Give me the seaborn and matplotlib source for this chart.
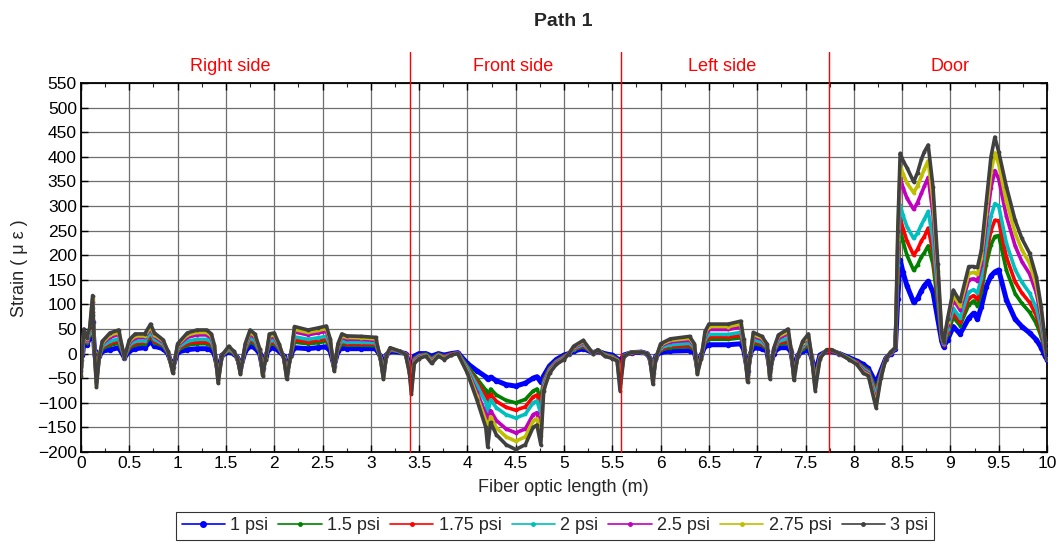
import matplotlib
matplotlib.use("Agg")
import numpy as np
import pandas as pd
import matplotlib.pyplot as plt
import seaborn as sns
from matplotlib.lines import Line2D
from matplotlib.ticker import MultipleLocator, FuncFormatter

# ---------------- data ----------------
x_m = [
    0.00, 0.015, 0.03, 0.06, 0.09, 0.12, 0.14, 0.16, 0.19, 0.22,
    0.30, 0.39, 0.45, 0.50, 0.56, 0.66, 0.72, 0.76, 0.85, 0.90,
    0.95, 1.00, 1.10, 1.20, 1.30, 1.35, 1.38, 1.42, 1.46, 1.53,
    1.58, 1.62, 1.65, 1.70, 1.75, 1.80, 1.85, 1.88, 1.91, 1.95,
    2.00, 2.05, 2.10, 2.13, 2.17, 2.21, 2.35, 2.45, 2.54, 2.58,
    2.62, 2.66, 2.70, 2.75, 2.90, 3.05, 3.10, 3.13, 3.16, 3.20,
    3.30, 3.36, 3.40, 3.42, 3.45, 3.50, 3.57, 3.63, 3.70, 3.76,
    3.83, 3.90, 4.00, 4.10, 4.19, 4.21, 4.24, 4.30, 4.40, 4.50,
    4.60, 4.68, 4.72, 4.76, 4.79, 4.85, 4.92, 5.00, 5.05, 5.10,
    5.20, 5.30, 5.35, 5.42, 5.50, 5.55, 5.58, 5.62, 5.70, 5.80,
    5.86, 5.89, 5.92, 5.95, 6.00, 6.10, 6.30, 6.35, 6.38, 6.42,
    6.46, 6.50, 6.70, 6.83, 6.86, 6.90, 6.93, 6.96, 7.05, 7.10,
    7.13, 7.17, 7.22, 7.32, 7.35, 7.38, 7.42, 7.47, 7.53, 7.56,
    7.60, 7.65, 7.72, 7.77, 7.85, 7.95, 8.03, 8.10, 8.15, 8.23,
    8.28, 8.33, 8.38, 8.43, 8.455, 8.48, 8.51, 8.55, 8.62, 8.66, 8.70, 8.73, 8.77,
    8.82, 8.87, 8.91, 8.93, 8.97, 9.03, 9.10, 9.19, 9.24, 9.28,
    9.32, 9.37, 9.42, 9.46, 9.50, 9.58, 9.67, 9.74, 9.82, 9.89,
    9.94, 9.98, 10.0,
]

strain_1psi = [
    -12, -3, 22, 18, 32, 65, 5, -25, -5, 5,
    8, 12, -8, 5, 10, 12, 25, 15, 10, 0,
    -28, 3, 8, 10, 10, 8, 0, -35, -3, 3,
    0, -8, -30, 5, 15, 12, 0, -30, -5, 10,
    12, 5, -5, -35, -3, 12, 10, 12, 14, 5,
    -25, 5, 12, 10, 10, 10, -5, -35, -3, 5,
    3, 0, -20, -45, -5, 0, 0, -5, 0, -3,
    0, 2, -20, -35, -47, -52, -48, -55, -63, -66,
    -60, -50, -47, -58, -45, -25, -12, -3, 0, 5,
    10, 2, 5, 0, -3, -10, -15, -3, 2, 3,
    0, -10, -40, -5, 3, 5, 6, 3, -25, -3,
    15, 18, 18, 20, 8, -35, 0, 12, 10, 5,
    -30, 0, 12, 12, 3, -35, -3, 5, 8, -5,
    -40, -3, 5, 5, 0, -8, -15, -22, -30, -60,
    -35, -10, 0, 10, 110, 190, 165, 138, 104, 112, 128, 138, 147,
    125, 70, 25, 14, 28, 55, 40, 72, 82, 70,
    95, 136, 158, 166, 170, 109, 70, 55, 42, 28,
    12, -5, -12,
]

strain_1_5psi = [
    -21, -1, 29, 22, 37, 79, 4, -36, -5, 10,
    17, 21, -8, 11, 18, 19, 34, 22, 15, 1,
    -31, 7, 17, 20, 20, 16, 5, -42, -3, 6,
    1, -9, -33, 9, 24, 19, 3, -34, -7, 18,
    20, 9, -6, -39, -4, 23, 20, 22, 25, 12,
    -28, 9, 19, 17, 17, 16, -6, -39, -4, 7,
    4, -1, -25, -55, -9, -3, -1, -9, -1, -5,
    -1, 2, -25, -51, -74, -88, -72, -84, -95, -100,
    -93, -76, -72, -91, -53, -29, -15, -5, 0, 8,
    14, 1, 6, -1, -5, -11, -31, -4, 2, 3,
    0, -10, -46, -6, 7, 12, 14, 7, -29, -5,
    23, 29, 29, 32, 14, -41, 0, 20, 17, 9,
    -35, 3, 19, 22, 5, -40, -4, 10, 16, -4,
    -49, -5, 6, 6, 0, -9, -17, -27, -34, -73,
    -39, -11, 1, 11, 146, 252, 228, 200, 169, 180, 197, 205, 219,
    181, 99, 29, 17, 39, 74, 57, 99, 107, 97,
    125, 180, 221, 238, 240, 169, 122, 102, 84, 61,
    34, 4, -11,
]

strain_1_75psi = [
    -25, 0, 33, 23, 40, 85, 3, -41, -5, 13,
    21, 26, -8, 14, 21, 23, 38, 25, 17, 2,
    -33, 9, 21, 24, 24, 20, 7, -45, -3, 8,
    2, -9, -35, 11, 28, 23, 4, -36, -8, 21,
    23, 11, -7, -41, -4, 28, 24, 27, 30, 15,
    -29, 11, 23, 20, 20, 19, -7, -41, -4, 8,
    4, -1, -28, -59, -11, -4, -2, -11, -2, -6,
    -1, 1, -28, -58, -86, -104, -83, -97, -109, -115,
    -108, -88, -84, -106, -56, -31, -16, -6, 0, 9,
    16, 1, 6, -2, -6, -12, -38, -4, 2, 3,
    0, -10, -48, -7, 9, 15, 17, 9, -31, -6,
    26, 34, 34, 37, 16, -44, 0, 24, 20, 11,
    -38, 4, 22, 26, 6, -42, -4, 13, 20, -3,
    -53, -6, 6, 6, 0, -10, -18, -29, -36, -79,
    -41, -11, 1, 11, 163, 275, 254, 229, 200, 212, 229, 238, 255,
    206, 113, 31, 18, 44, 83, 65, 112, 118, 110,
    139, 201, 250, 271, 270, 196, 146, 123, 104, 77,
    44, 8, -11,
]

strain_2psi = [
    -28, 1, 36, 25, 42, 92, 3, -47, -5, 15,
    25, 30, -8, 17, 25, 26, 43, 29, 19, 3,
    -34, 12, 25, 29, 29, 24, 9, -48, -3, 9,
    3, -9, -36, 13, 32, 26, 5, -38, -9, 25,
    27, 13, -8, -44, -4, 34, 29, 32, 35, 18,
    -30, 13, 26, 23, 23, 22, -8, -44, -4, 9,
    4, -1, -30, -64, -13, -5, -3, -13, -3, -8,
    -2, 1, -30, -65, -99, -121, -94, -110, -124, -131,
    -123, -100, -96, -122, -60, -33, -17, -8, 0, 10,
    19, 1, 7, -3, -7, -13, -45, -4, 3, 3,
    0, -10, -51, -8, 12, 18, 21, 12, -34, -7,
    30, 39, 39, 43, 19, -47, 0, 28, 23, 13,
    -41, 5, 25, 31, 7, -45, -4, 15, 24, -3,
    -58, -7, 7, 7, 0, -10, -19, -31, -38, -85,
    -43, -11, 2, 11, 180, 302, 281, 258, 234, 245, 262, 273, 289,
    232, 127, 33, 19, 49, 92, 73, 125, 130, 123,
    153, 221, 279, 305, 300, 224, 171, 145, 123, 92,
    54, 12, -11,
]

strain_2_5psi = [
    -36, 3, 43, 28, 47, 104, 1, -57, -5, 20,
    33, 39, -8, 22, 32, 33, 51, 35, 23, 4,
    -37, 16, 33, 38, 38, 32, 13, -54, -3, 12,
    4, -10, -39, 16, 39, 33, 7, -41, -10, 32,
    34, 16, -9, -48, -5, 44, 38, 42, 45, 24,
    -32, 16, 33, 29, 29, 27, -9, -48, -5, 10,
    5, -1, -35, -72, -16, -7, -4, -16, -4, -10,
    -2, 1, -35, -79, -123, -154, -116, -136, -153, -161,
    -153, -124, -120, -152, -67, -36, -19, -10, 0, 12,
    23, 1, 7, -4, -8, -14, -59, -5, 3, 3,
    0, -10, -56, -9, 16, 24, 27, 16, -38, -8,
    37, 49, 49, 54, 24, -52, 0, 35, 29, 16,
    -46, 7, 31, 40, 8, -49, -5, 20, 32, -1,
    -66, -8, 7, 7, 0, -11, -20, -35, -41, -97,
    -46, -11, 2, 11, 214, 357, 337, 316, 293, 307, 326, 340, 358,
    283, 154, 37, 21, 59, 110, 89, 150, 152, 148,
    180, 262, 337, 372, 355, 279, 219, 187, 162, 123,
    73, 19, -10,
]

strain_2_75psi = [
    -41, 4, 46, 30, 49, 111, 1, -62, -5, 22,
    38, 43, -8, 25, 36, 36, 55, 38, 26, 4,
    -38, 18, 38, 43, 43, 36, 16, -57, -3, 13,
    4, -10, -40, 18, 44, 36, 9, -43, -11, 36,
    38, 18, -9, -50, -5, 49, 43, 47, 51, 27,
    -34, 18, 36, 33, 32, 30, -9, -50, -5, 11,
    5, -2, -37, -77, -18, -9, -4, -18, -4, -11,
    -3, 0, -37, -87, -137, -172, -128, -151, -169, -178,
    -169, -137, -132, -168, -71, -38, -21, -11, 0, 14,
    25, 0, 8, -4, -9, -14, -67, -5, 3, 3,
    0, -10, -59, -9, 18, 27, 31, 18, -40, -9,
    41, 55, 55, 60, 27, -55, 0, 39, 32, 18,
    -48, 9, 35, 45, 9, -52, -5, 22, 36, -1,
    -70, -9, 8, 8, 0, -11, -21, -38, -43, -104,
    -48, -12, 3, 12, 232, 382, 365, 347, 327, 341, 360, 375, 392,
    311, 168, 39, 23, 65, 119, 97, 163, 165, 161,
    195, 284, 369, 408, 385, 309, 245, 211, 183, 139,
    84, 24, -10,
]

strain_3psi = [
    -45, 5, 50, 32, 52, 118, 0, -68, -5, 25,
    42, 48, -8, 28, 40, 40, 60, 42, 28, 5,
    -40, 20, 42, 48, 48, 40, 18, -60, -3, 15,
    5, -10, -42, 20, 48, 40, 10, -45, -12, 40,
    42, 20, -10, -52, -5, 55, 48, 52, 56, 30,
    -35, 20, 40, 36, 35, 33, -10, -52, -5, 12,
    5, -2, -40, -82, -20, -10, -5, -20, -5, -12,
    -3, 0, -40, -95, -150, -190, -140, -165, -185, -195,
    -185, -150, -145, -185, -75, -40, -22, -12, 0, 15,
    27, 0, 8, -5, -10, -15, -75, -5, 3, 3,
    0, -10, -62, -10, 20, 30, 35, 20, -42, -10,
    45, 60, 60, 66, 30, -58, 0, 43, 35, 20,
    -51, 10, 38, 50, 10, -54, -5, 25, 40, 0,
    -75, -10, 8, 8, 0, -12, -22, -40, -45, -110,
    -50, -12, 3, 12, 250, 407, 392, 378, 349, 368, 395, 410, 424,
    339, 183, 41, 24, 70, 129, 106, 177, 177, 175,
    210, 306, 400, 440, 410, 339, 271, 234, 204, 156,
    95, 28, -10,
]

series_labels = ["1 psi", "1.5 psi", "1.75 psi", "2 psi", "2.5 psi", "2.75 psi", "3 psi"]
series_values = [strain_1psi, strain_1_5psi, strain_1_75psi, strain_2psi,
                 strain_2_5psi, strain_2_75psi, strain_3psi]

section_names = ["Right side", "Front side", "Left side", "Door"]
section_centers = [1.55, 4.47, 6.64, 9.0]
section_bounds = [3.41, 5.585, 7.74]

x_ticks = [0, 0.5, 1, 1.5, 2, 2.5, 3, 3.5, 4, 4.5, 5, 5.5, 6, 6.5, 7, 7.5, 8, 8.5, 9, 9.5, 10]
y_ticks = list(range(-200, 551, 50))

# ---------------- style ----------------
colors = ["#0000FF", "#008000", "#FF0000", "#00BFBF", "#BF00BF", "#BFBF00", "#404040"]
line_widths = [3.6, 2.6, 2.6, 2.6, 2.6, 2.6, 2.6]
markers = ["o", ".", ".", ".", ".", ".", "."]
msizes = [3.2, 4, 4, 4, 4, 4, 4]

sns.set_style("white")
plt.rcParams["font.family"] = ["Liberation Sans", "DejaVu Sans"]

W, H = 1059, 543
fig = plt.figure(figsize=(W / 100, H / 100), dpi=100)
ax_l, ax_r, ax_t, ax_b = 81, 1047, 83, 452
ax = fig.add_axes([ax_l / W, 1 - ax_b / H, (ax_r - ax_l) / W, (ax_b - ax_t) / H])

for lab, vals, c, lw, mk, ms in zip(series_labels, series_values, colors, line_widths, markers, msizes):
    df = pd.DataFrame({"x": x_m, "y": vals})
    sns.lineplot(data=df, x="x", y="y", ax=ax, color=c, lw=lw, marker=mk, ms=ms,
                 mec=c, mfc=c, legend=False, sort=False, estimator=None, zorder=3)

ax.set_xlim(0, 10)
ax.set_ylim(-200, 550)
ax.set_xticks(x_ticks)
ax.set_yticks(y_ticks)
ax.xaxis.set_major_formatter(FuncFormatter(lambda v, p: f"{v:g}"))
ax.xaxis.set_minor_locator(MultipleLocator(0.25))
ax.grid(True, which="major", color="#6e6e6e", lw=0.9, ls="-")
ax.set_axisbelow(True)
ax.tick_params(which="major", direction="in", top=True, right=True, bottom=True, left=True,
               length=5, width=1, labelsize=12.5, pad=3, colors="black")
ax.tick_params(which="minor", direction="in", top=True, bottom=True, length=3, width=0.8)
for s in ax.spines.values():
    s.set_color("black")
    s.set_linewidth(1.3)
ax.set_xlabel("")
ax.set_ylabel("")

# section boundaries and names
for xb in section_bounds:
    ax.axvline(xb, ymin=0, ymax=(ax_b - 52) / (ax_b - ax_t), color="red", lw=1.0,
               clip_on=False, zorder=4)
trans = ax.get_xaxis_transform()
for name, xc in zip(section_names, section_centers):
    ax.text(xc, (ax_b - 67) / (ax_b - ax_t), name, transform=trans, color="red",
            fontsize=13, ha="center", va="center")

# titles / labels
fig.text(563 / W, 1 - 22 / H, "Path 1", fontsize=14, fontweight="bold", ha="center", va="center")
fig.text(563 / W, 1 - 488 / H, "Fiber optic length (m)", fontsize=13, ha="center", va="center")
fig.text(20 / W, 1 - 268 / H, "Strain ( μ ε )", fontsize=13, ha="center", va="center", rotation=90)

# legend
handles = [Line2D([0], [0], color=c, lw=1.2, marker=mk, ms=4 if mk == "o" else 5, mfc=c, mec=c)
           for c, mk in zip(colors, markers)]
leg = fig.legend(handles, series_labels, loc="center", bbox_to_anchor=(555 / W, 1 - 526 / H),
                 ncol=7, frameon=True, fancybox=False, edgecolor="black", fontsize=13,
                 handlelength=2.4, handletextpad=0.3, columnspacing=0.55, borderpad=0.3,
                 borderaxespad=0)
leg.get_frame().set_linewidth(0.8)

fig.savefig("out.png", dpi=100)
